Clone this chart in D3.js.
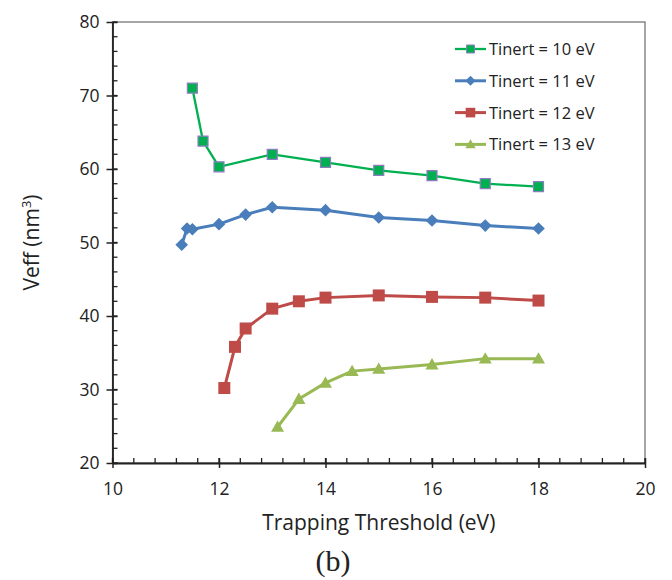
<!DOCTYPE html>
<html>
<head>
<meta charset="utf-8">
<script src="https://cdn.jsdelivr.net/npm/d3@7"></script>
<style>
  html, body { margin: 0; padding: 0; background: #fff; }
  svg { display: block; }
  text { font-family: "Open Sans", "Noto Sans", sans-serif; fill: #222; }
</style>
</head>
<body>
<svg id="chart" width="672" height="580"></svg>
<script>
// Trapping threshold (eV) and effective volume (nm^3) for each inert temperature
const x10 = [11.5, 11.7, 12, 13, 14, 15, 16, 17, 18];
const y10 = [71.0, 63.8, 60.3, 62.0, 60.9, 59.8, 59.1, 58.0, 57.6];

const x11 = [11.3, 11.4, 11.5, 12, 12.5, 13, 14, 15, 16, 17, 18];
const y11 = [49.7, 51.9, 51.8, 52.5, 53.8, 54.8, 54.4, 53.4, 53.0, 52.3, 51.9];

const x12 = [12.1, 12.3, 12.5, 13, 13.5, 14, 15, 16, 17, 18];
const y12 = [30.2, 35.8, 38.3, 41.0, 42.0, 42.5, 42.8, 42.6, 42.5, 42.1];

const x13 = [13.1, 13.5, 14, 14.5, 15, 16, 17, 18];
const y13 = [24.9, 28.7, 30.9, 32.5, 32.8, 33.4, 34.2, 34.2];

const seriesNames = ["Tinert = 10 eV", "Tinert = 11 eV", "Tinert = 12 eV", "Tinert = 13 eV"];
const xTicks = [10, 12, 14, 16, 18, 20];
const yTicks = [20, 30, 40, 50, 60, 70, 80];

const series = [
  { name: seriesNames[0], xs: x10, ys: y10, color: "#00B050", stroke: "#8E7CC3", width: 2.3, marker: "square", size: 10 },
  { name: seriesNames[1], xs: x11, ys: y11, color: "#4A7EBB", stroke: null, width: 3, marker: "diamond", size: 11 },
  { name: seriesNames[2], xs: x12, ys: y12, color: "#BE4B48", stroke: null, width: 3, marker: "square", size: 12 },
  { name: seriesNames[3], xs: x13, ys: y13, color: "#98B954", stroke: null, width: 3, marker: "triangle", size: 13 }
];

const svg = d3.select("#chart");
const plotL = 112.5, plotR = 645, plotT = 22, plotB = 463;

const x = d3.scaleLinear().domain([10, 20]).range([plotL, plotR]);
const y = d3.scaleLinear().domain([20, 80]).range([plotB, plotT]);

// plot area frame
svg.append("rect")
  .attr("x", plotL).attr("y", plotT)
  .attr("width", plotR - plotL).attr("height", plotB - plotT)
  .attr("fill", "none").attr("stroke", "#6b6b6b").attr("stroke-width", 1.2);

// minor ticks
const xMinor = d3.range(10, 20.001, 0.4);
const yMinor = d3.range(20, 80.001, 2);
svg.append("g").selectAll("line").data(xMinor).join("line")
  .attr("x1", d => x(d)).attr("x2", d => x(d))
  .attr("y1", plotB).attr("y2", plotB - 5)
  .attr("stroke", "#222").attr("stroke-width", 1.3);
svg.append("g").selectAll("line").data(yMinor).join("line")
  .attr("x1", plotL).attr("x2", plotL + 5)
  .attr("y1", d => y(d)).attr("y2", d => y(d))
  .attr("stroke", "#222").attr("stroke-width", 1.3);

// major axes
const xAxis = d3.axisBottom(x).tickValues(xTicks).tickFormat(d3.format("d"))
  .tickSizeInner(5).tickSizeOuter(0).tickPadding(15);
const gx = svg.append("g").attr("transform", `translate(0,${plotB})`).call(xAxis);
gx.select(".domain").attr("stroke", "#222").attr("stroke-width", 1.8);
gx.selectAll(".tick line").attr("y1", -5).attr("stroke", "#222").attr("stroke-width", 1.5);
gx.selectAll(".tick text").style("font-family", "'Open Sans', sans-serif").style("font-size", "17.5px").attr("fill", "#222");

const yAxis = d3.axisLeft(y).tickValues(yTicks).tickFormat(d3.format("d"))
  .tickSizeInner(6).tickSizeOuter(0).tickPadding(7);
const gy = svg.append("g").attr("transform", `translate(${plotL},0)`).call(yAxis);
gy.select(".domain").attr("stroke", "#222").attr("stroke-width", 1.8);
gy.selectAll(".tick line").attr("x1", 5).attr("stroke", "#222").attr("stroke-width", 1.5);
gy.selectAll(".tick text").style("font-family", "'Open Sans', sans-serif").style("font-size", "17.5px").attr("fill", "#222");

// axis titles
svg.append("text")
  .attr("x", (plotL + plotR) / 2).attr("y", 530)
  .attr("text-anchor", "middle").style("font-size", "21px")
  .text("Trapping Threshold (eV)");

const yt = svg.append("text")
  .attr("transform", `translate(39,${(plotT + plotB) / 2}) rotate(-90)`)
  .attr("text-anchor", "middle").style("font-size", "21px");
yt.append("tspan").text("Veff (nm");
yt.append("tspan").attr("dy", -8).style("font-size", "13px").text("3");
yt.append("tspan").attr("dy", 8).text(")");

svg.append("text")
  .attr("x", 333).attr("y", 571)
  .attr("text-anchor", "middle")
  .style("font-family", "'Liberation Serif', 'DejaVu Serif', serif")
  .style("font-size", "30px")
  .text("(b)");

// marker drawing
function markerPath(type, s) {
  const h = s / 2;
  if (type === "square") return `M${-h},${-h}H${h}V${h}H${-h}Z`;
  if (type === "diamond") return `M0,${-h * 1.15}L${h * 1.15},0L0,${h * 1.15}L${-h * 1.15},0Z`;
  // triangle centred on its bounding box
  return `M0,${-h}L${h},${h * 0.75}L${-h},${h * 0.75}Z`;
}

const line = d3.line().x(d => x(d[0])).y(d => y(d[1]));

series.forEach(s => {
  const pts = s.xs.map((v, i) => [v, s.ys[i]]);
  const g = svg.append("g");
  g.append("path").datum(pts).attr("d", line)
    .attr("fill", "none").attr("stroke", s.color)
    .attr("stroke-width", s.width).attr("stroke-linejoin", "round");
  g.selectAll("path.m").data(pts).join("path").attr("class", "m")
    .attr("transform", d => `translate(${x(d[0])},${y(d[1])})`)
    .attr("d", markerPath(s.marker, s.size))
    .attr("fill", s.color)
    .attr("stroke", s.stroke || "none").attr("stroke-width", s.stroke ? 1.2 : 0);
});

// legend
const legend = svg.append("g");
series.forEach((s, i) => {
  const ly = 49 + i * 31.8;
  const row = legend.append("g").attr("transform", `translate(0,${ly})`);
  row.append("line").attr("x1", 455).attr("x2", 486).attr("y1", 0).attr("y2", 0)
    .attr("stroke", s.color).attr("stroke-width", s.width);
  row.append("path").attr("transform", "translate(470.5,0)")
    .attr("d", markerPath(s.marker, s.size * 0.8))
    .attr("fill", s.color)
    .attr("stroke", s.stroke || "none").attr("stroke-width", s.stroke ? 1 : 0);
  row.append("text").attr("x", 489).attr("y", 6)
    .style("font-size", "16.5px").text(s.name);
});
</script>
</body>
</html>
